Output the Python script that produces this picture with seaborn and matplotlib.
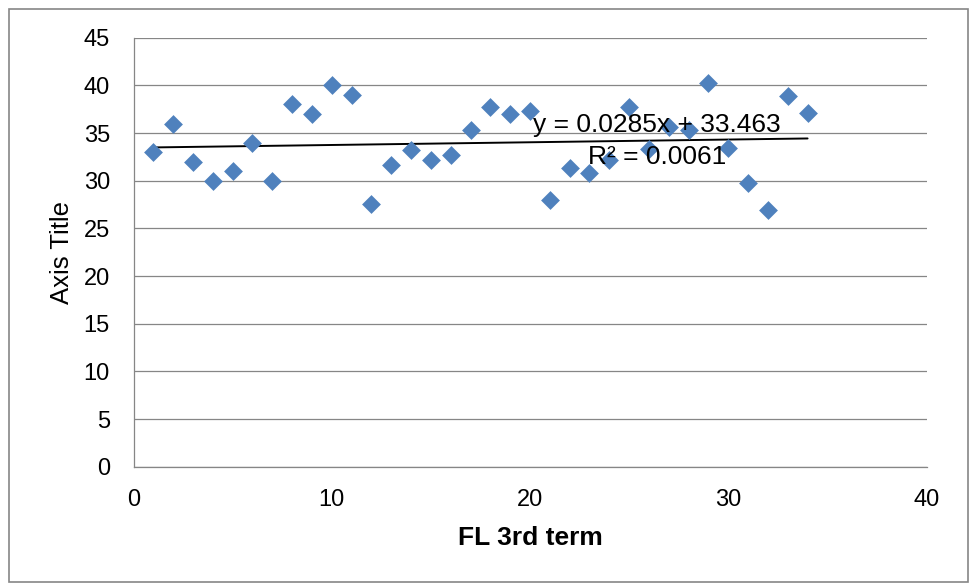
import numpy as np
import pandas as pd
import matplotlib
matplotlib.use("Agg")
import matplotlib.pyplot as plt
from matplotlib.patches import Rectangle
import seaborn as sns

# Observations: term index and score
term = list(range(1, 35))
score = [33.0, 36.0, 32.0, 30.0, 31.0, 34.0, 30.0, 38.0, 37.0, 40.0,
         39.0, 27.6, 31.6, 33.2, 32.2, 32.7, 35.3, 37.7, 37.0, 37.3,
         28.0, 31.3, 30.8, 32.2, 37.7, 33.3, 35.6, 35.3, 40.2, 33.4,
         29.8, 26.9, 38.9, 37.1]

# Linear trendline as reported on the chart
slope = 0.0285
intercept = 33.463
r_squared = 0.0061

x_ticks = [0, 10, 20, 30, 40]
y_ticks = [0, 5, 10, 15, 20, 25, 30, 35, 40, 45]
x_label = "FL 3rd term"
y_label = "Axis Title"

sns.set_style("white")
plt.rcParams["font.family"] = ["Liberation Sans", "DejaVu Sans"]
plt.rcParams["text.color"] = "black"
plt.rcParams["axes.labelcolor"] = "black"

df = pd.DataFrame({"term": term, "score": score})

fig = plt.figure(figsize=(9.71, 5.84), dpi=100)
ax = fig.add_axes([0.1375, 0.2009, 0.8167, 0.7345])

gray = "#868686"
blue = "#4F81BD"

ax.set_xlim(0, 40)
ax.set_ylim(0, 45)
ax.set_yticks(y_ticks)
ax.set_xticks(x_ticks)
ax.yaxis.grid(True, color=gray, linewidth=0.9)
ax.xaxis.grid(False)
ax.set_axisbelow(True)

# trendline over the data range
tx = np.array([min(term), max(term)])
ax.plot(tx, slope * tx + intercept, color="black", linewidth=1.4, zorder=2)

sns.scatterplot(data=df, x="term", y="score", marker="D", s=92,
                color=blue, edgecolor=blue, linewidth=0, ax=ax, zorder=3)

# trendline equation and R², centred one above the other
eq_x = 26.4
ax.text(eq_x, 35.14, f"y = {slope}x + {intercept}", ha="center",
        va="baseline", fontsize=19, color="black", zorder=4)
ax.text(eq_x, 31.75, f"R² = {r_squared}", ha="center",
        va="baseline", fontsize=19, color="black", zorder=4)

for side in ["top", "right"]:
    ax.spines[side].set_visible(False)
for side in ["left", "bottom"]:
    ax.spines[side].set_color(gray)
    ax.spines[side].set_linewidth(0.9)

ax.tick_params(axis="both", length=0, labelsize=17, colors="black")
ax.tick_params(axis="y", pad=17)
ax.tick_params(axis="x", pad=16)

ax.set_xlabel(x_label, fontsize=19, fontweight="bold", labelpad=11,
              color="black")
ax.set_ylabel(y_label, fontsize=18.5, labelpad=7, color="black")

# outer chart border
fig.patches.append(Rectangle((9 / 971, 2 / 584), 959 / 971, 573 / 584,
                             transform=fig.transFigure, fill=False,
                             edgecolor=gray, linewidth=1.2))

fig.savefig("out.png", dpi=100, facecolor="white")
